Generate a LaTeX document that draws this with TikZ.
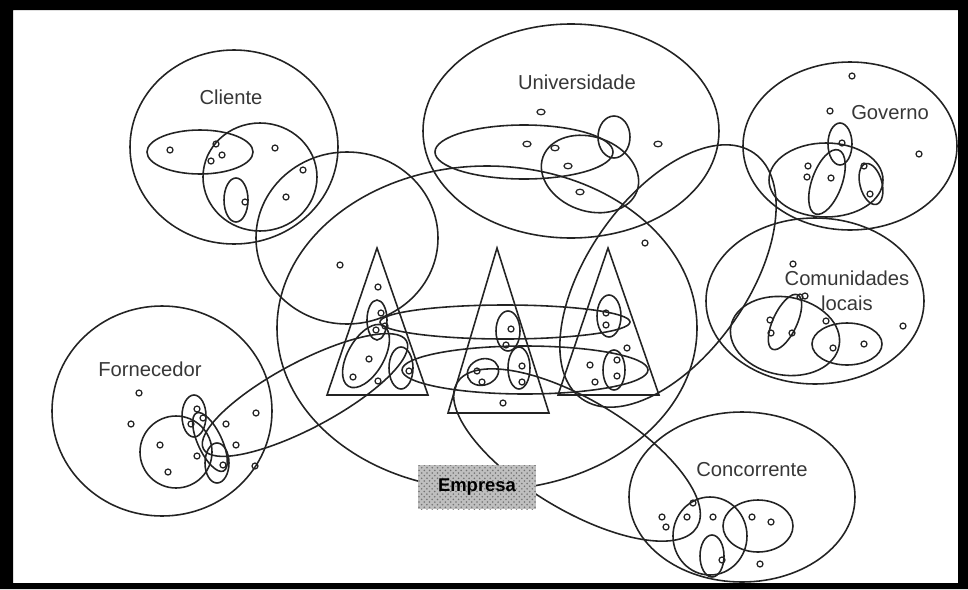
\documentclass[tikz,border=0pt]{standalone}
\usepackage{fontspec}
\setmainfont{Liberation Sans}
\usepackage{xcolor}
\definecolor{inkgray}{RGB}{35,35,35}
\definecolor{txtgray}{RGB}{55,55,55}
\usetikzlibrary{patterns}

\begin{document}
\begin{tikzpicture}[x=0.02cm, y=-0.02cm,
  ring/.style={draw=inkgray, line width=0.9pt},
  ptmark/.style={draw=inkgray, line width=0.7pt},
  lbl/.style={text=txtgray, font=\fontsize{11.5}{14}\selectfont, align=center, inner sep=1pt},
  emp/.style={preaction={fill=gray!50}, pattern=crosshatch dots, pattern color=gray!90!black,
              minimum width=2.38cm, minimum height=0.88cm, inner sep=0pt,
              font=\fontsize{10.5}{12}\selectfont\bfseries}
]
\useasboundingbox (0,0) rectangle (968,589);

% Cliente
\draw[ring] (234,147) ellipse [x radius=104, y radius=97];
\draw[ring] (200,152) ellipse [x radius=53, y radius=22];
\draw[ring] (260,177) ellipse [x radius=57, y radius=54];
\draw[ring] (236,200) ellipse [x radius=12, y radius=22];
\draw[ring] (347,238) ellipse [x radius=91, y radius=86];
\foreach \x/\y in {170/150, 216/144, 222/155, 211/161, 275/148, 303/170, 286/197, 245/202}
  \draw[ptmark] (\x,\y) circle [radius=3];
\node[lbl] (cliente) at (231,97) {Cliente};

% Universidade
\draw[ring] (571,131) ellipse [x radius=148, y radius=107];
\draw[ring] (524,152) ellipse [x radius=89, y radius=27];
\draw[ring, rotate around={-20:(590,174)}] (590,174) ellipse [x radius=50, y radius=37];
\draw[ring] (614,137) ellipse [x radius=16, y radius=21];
\foreach \x/\y in {541/112, 527/144, 555/148, 568/166, 580/192, 658/144}
  \draw[ptmark] (\x,\y) ellipse [x radius=4, y radius=2.8];
\node[lbl] (univ) at (577,82) {Universidade};

% Governo
\draw[ring] (850,146) ellipse [x radius=107, y radius=84];
\draw[ring] (826,180) ellipse [x radius=57, y radius=37];
\draw[ring] (840,144) ellipse [x radius=12, y radius=21];
\draw[ring, rotate around={-20:(827,182)}] (827,182) ellipse [x radius=15, y radius=34];
\draw[ring, rotate around={15:(871,184)}] (871,184) ellipse [x radius=11, y radius=21];
\foreach \x/\y in {852/76, 830/111, 842/143, 808/166, 807/177, 831/178, 864/166, 870/194, 919/154}
  \draw[ptmark] (\x,\y) circle [radius=3];
\node[lbl] (governo) at (890,113) {Governo};

% Comunidades locais
\draw[ring] (815,301) ellipse [x radius=109, y radius=83];
\draw[ring, rotate around={-10:(785,336)}] (785,336) ellipse [x radius=55, y radius=39];
\draw[ring, rotate around={-25:(785,322)}] (785,322) ellipse [x radius=12, y radius=30];
\draw[ring] (847,344) ellipse [x radius=35, y radius=21];
\foreach \x/\y in {793/264, 800/297, 805/296, 770/320, 771/333, 792/333, 826/321, 833/348, 864/344, 903/326}
  \draw[ptmark] (\x,\y) circle [radius=3];
\node[lbl] (comun) at (847,291) {Comunidades\\locais};

% Fornecedor
\draw[ring] (162,411) ellipse [x radius=110, y radius=105];
\draw[ring] (194,416) ellipse [x radius=12, y radius=21];
\draw[ring] (176,452) circle [radius=36];
\draw[ring, rotate around={25:(210,442)}] (210,442) ellipse [x radius=12, y radius=32];
\draw[ring] (217,463) ellipse [x radius=12, y radius=20];
\draw[ring, rotate around={28:(305,395)}] (305,395) ellipse [x radius=115, y radius=33];
\foreach \x/\y in {139/393, 131/424, 197/409, 203/418, 191/424, 226/424, 256/413, 160/445, 236/445, 197/456, 223/465, 168/472, 255/466}
  \draw[ptmark] (\x,\y) circle [radius=3];
\node[lbl] (fornec) at (150,369) {Fornecedor};

% Empresa
\draw[ring] (487,328) ellipse [x radius=210, y radius=162];
\draw[ring] (377,248) -- (327,395) -- (428,395) -- cycle;
\draw[ring] (497,248) -- (448,413) -- (549,413) -- cycle;
\draw[ring] (608,248) -- (558,395) -- (659,395) -- cycle;
\draw[ring] (377,320) ellipse [x radius=10, y radius=20];
\draw[ring, rotate around={-30:(366,356)}] (366,356) ellipse [x radius=18, y radius=35];
\draw[ring] (401,368) ellipse [x radius=12, y radius=21];
\draw[ring] (508,331) ellipse [x radius=12, y radius=20];
\draw[ring] (519,368) ellipse [x radius=11, y radius=21];
\draw[ring, rotate around={20:(483,372)}] (483,372) ellipse [x radius=16, y radius=13];
\draw[ring] (609,316) ellipse [x radius=12, y radius=21];
\draw[ring] (614,370) ellipse [x radius=11, y radius=20];
\draw[ring] (505,322) ellipse [x radius=125, y radius=17];
\draw[ring] (525,370) ellipse [x radius=123, y radius=24];
\draw[ring, rotate around={55:(668,276)}] (668,276) ellipse [x radius=150, y radius=80];
\draw[ring, rotate around={-31:(577,455)}] (577,455) ellipse [x radius=140, y radius=55];
\foreach \x/\y in {340/265, 645/243,
    378/287, 381/313, 385/326, 376/330, 369/359, 353/377, 378/381, 409/371,
    511/329, 506/345, 522/366, 522/382, 477/371, 482/382, 503/403,
    606/313, 606/325, 627/348, 617/360, 617/376, 590/365, 595/382}
  \draw[ptmark] (\x,\y) circle [radius=3];
\node[emp] (empresa) at (477,487) {Empresa};

% Concorrente
\draw[ring] (742,497) ellipse [x radius=113, y radius=85];
\draw[ring] (710,536) ellipse [x radius=37, y radius=39];
\draw[ring] (758,526) ellipse [x radius=35, y radius=26];
\draw[ring] (712,556) ellipse [x radius=12, y radius=21];
\foreach \x/\y in {662/517, 666/527, 687/517, 693/503, 713/517, 752/517, 771/522, 722/560, 760/564}
  \draw[ptmark] (\x,\y) circle [radius=3];
\node[lbl] (concor) at (752,470) {Concorrente};

% frame
\fill[black, even odd rule] (0,0) rectangle (968,589) (13,10) rectangle (958,583);
\end{tikzpicture}
\end{document}
